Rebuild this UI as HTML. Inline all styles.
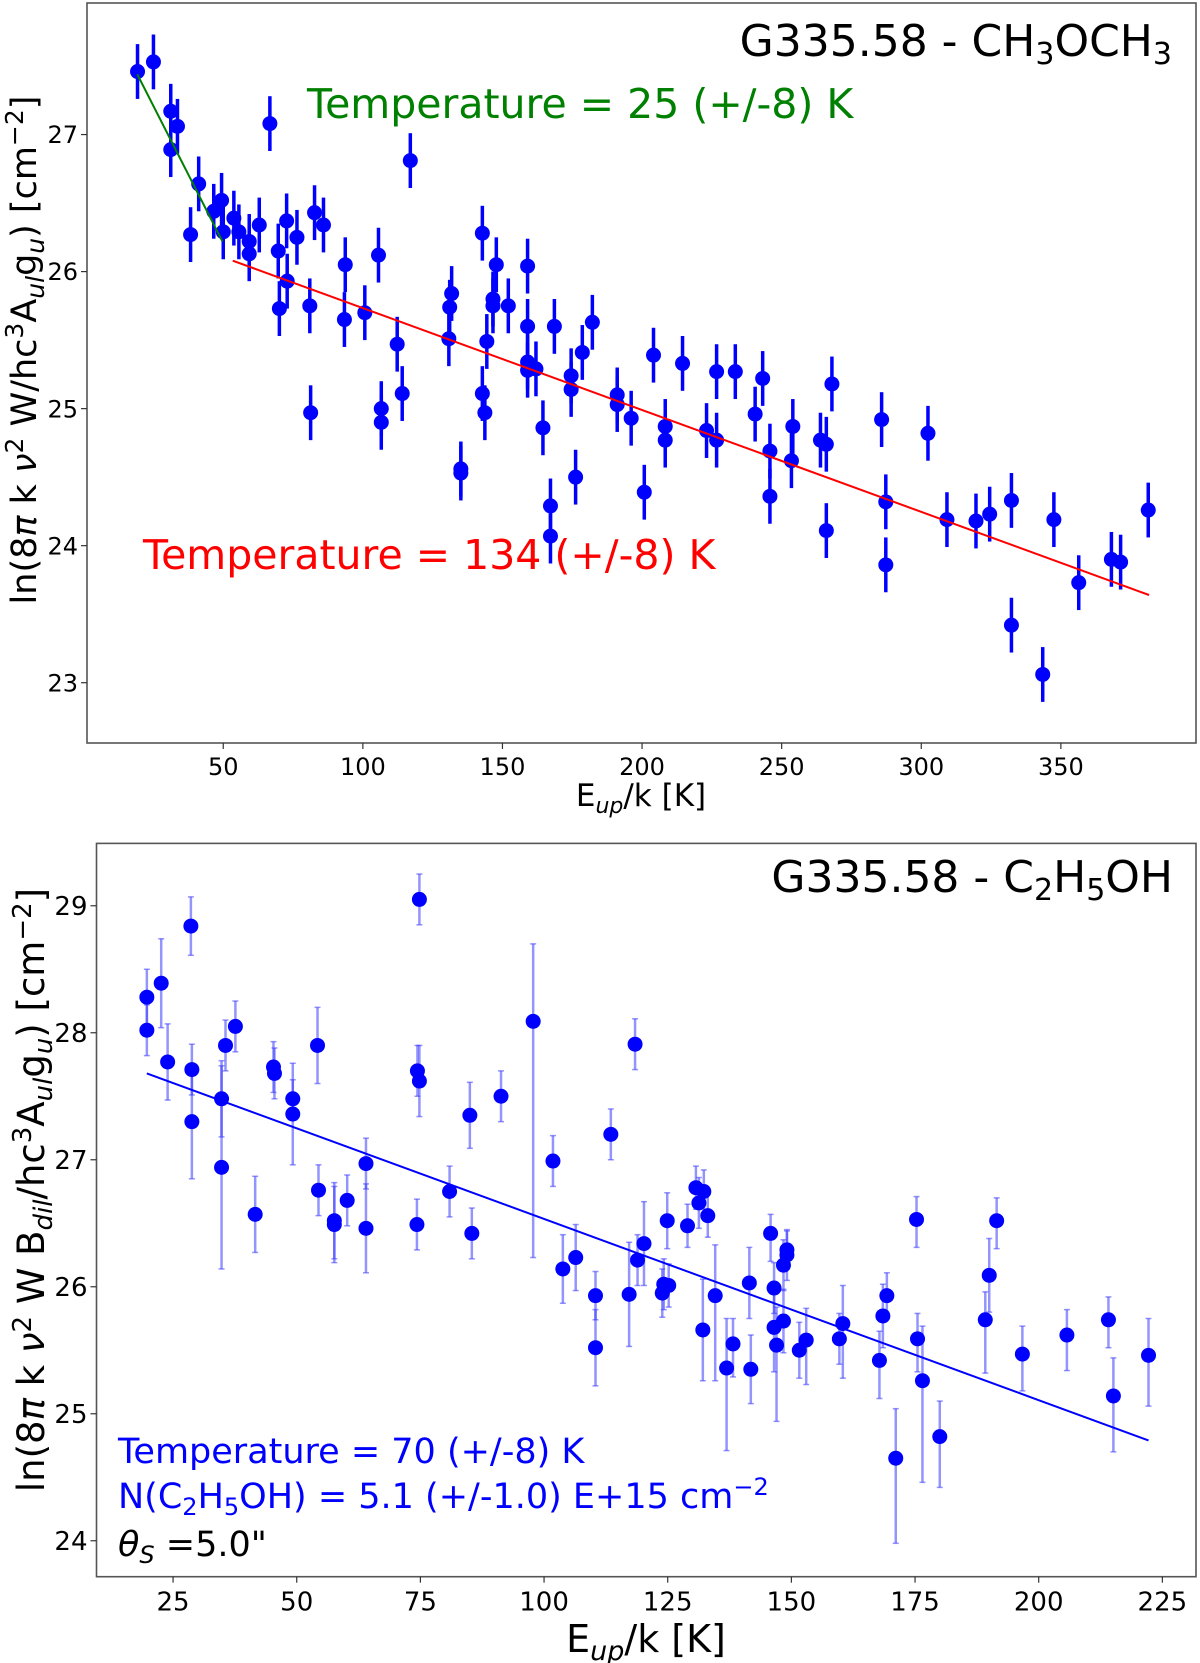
<!DOCTYPE html>
<html><head><meta charset="utf-8"><style>
html,body{margin:0;padding:0;background:#fff;}
svg{display:block;font-family:"DejaVu Sans","Liberation Sans",sans-serif;}
</style></head><body>
<svg id="fig" width="1200" height="1663" viewBox="0 0 1200 1663" xmlns="http://www.w3.org/2000/svg">
<g id="top"></g>
<g id="bot"></g>
<text x="1172" y="56" text-anchor="end" font-size="44" fill="#000">G335.58 - CH<tspan font-size="30" dy="8">3</tspan><tspan dy="-8">OCH</tspan><tspan font-size="30" dy="8">3</tspan></text>
<text x="307" y="118" font-size="41" fill="#008000">Temperature = 25 (+/-8) K</text>
<text x="143" y="569" font-size="41" fill="#ff0000">Temperature = 134 (+/-8) K</text>
<text x="641" y="806" text-anchor="middle" font-size="31">E<tspan font-size="22" dy="7" font-style="italic">up</tspan><tspan dy="-7">/k [K]</tspan></text>
<text transform="translate(36,350) rotate(-90)" text-anchor="middle" font-size="35">ln(8<tspan font-style="italic">π</tspan> k <tspan font-style="italic">ν</tspan><tspan font-size="25" dy="-13">2</tspan><tspan dy="13"> W/hc</tspan><tspan font-size="25" dy="-13">3</tspan><tspan dy="13">A</tspan><tspan font-size="25" dy="8" font-style="italic">ul</tspan><tspan dy="-8">g</tspan><tspan font-size="25" dy="8" font-style="italic">u</tspan><tspan dy="-8">) [cm</tspan><tspan font-size="25" dy="-13">−2</tspan><tspan dy="13">]</tspan></text>
<text x="1173" y="892" text-anchor="end" font-size="44" fill="#000">G335.58 - C<tspan font-size="30" dy="8">2</tspan><tspan dy="-8">H</tspan><tspan font-size="30" dy="8">5</tspan><tspan dy="-8">OH</tspan></text>
<text x="118" y="1463" font-size="35" fill="#0000ff">Temperature = 70 (+/-8) K</text>
<text x="118" y="1508" font-size="35" fill="#0000ff">N(C<tspan font-size="24" dy="7">2</tspan><tspan dy="-7">H</tspan><tspan font-size="24" dy="7">5</tspan><tspan dy="-7">OH) = 5.1 (+/-1.0) E+15 cm</tspan><tspan font-size="24" dy="-13">−2</tspan></text>
<text x="118" y="1556" font-size="35" fill="#000"><tspan font-style="italic">θ</tspan><tspan font-size="24" dy="7" font-style="italic">S</tspan><tspan dy="-7"> =5.0"</tspan></text>
<text x="646" y="1652" text-anchor="middle" font-size="38">E<tspan font-size="27" dy="8" font-style="italic">up</tspan><tspan dy="-8">/k [K]</tspan></text>
<text transform="translate(44,1190) rotate(-90)" text-anchor="middle" font-size="37">ln(8<tspan font-style="italic">π</tspan> k <tspan font-style="italic">ν</tspan><tspan font-size="26" dy="-13">2</tspan><tspan dy="13"> W B</tspan><tspan font-size="26" dy="8" font-style="italic">dil</tspan><tspan dy="-8">/hc</tspan><tspan font-size="26" dy="-13">3</tspan><tspan dy="13">A</tspan><tspan font-size="26" dy="8" font-style="italic">ul</tspan><tspan dy="-8">g</tspan><tspan font-size="26" dy="8" font-style="italic">u</tspan><tspan dy="-8">) [cm</tspan><tspan font-size="26" dy="-13">−2</tspan><tspan dy="13">]</tspan></text>
</svg>
<script>
// ---- top chart data (CH3OCH3) ----
var chX = [19.3,25.0,31.2,33.6,31.2,41.2,38.3,46.6,49.4,50.0,53.8,55.6,59.3,59.3,62.9,66.7,69.7,70.1,72.7,72.9,76.4,81.0,81.3,82.7,85.9,93.7,93.4,100.7,105.6,106.6,106.6,112.3,114.1,117.0,131.1,131.8,130.8,135.1,135.1,142.8,147.8,146.6,146.6,144.4,142.8,143.7,152.1,159.0,159.0,159.0,159.0,162.0,164.5,167.2,167.2,168.6,174.6,174.6,176.2,178.6,182.2,191.1,191.1,196.1,200.8,204.1,208.3,208.3,214.5,223.1,226.7,226.7,233.4,240.5,243.2,245.8,245.8,254.0,253.5,268.0,263.9,266.0,266.0,285.8,287.3,287.3,302.4,309.2,319.6,324.5,332.3,332.3,343.5,347.5,356.4,368.1,371.4,381.3];
var chY = [27.46,27.53,27.17,27.06,26.89,26.64,26.27,26.44,26.52,26.29,26.39,26.29,26.22,26.13,26.34,27.08,26.15,25.73,26.37,25.93,26.25,25.75,24.97,26.43,26.34,26.05,25.65,25.70,26.12,25.00,24.90,25.47,25.11,26.81,25.74,25.84,25.51,24.56,24.53,26.28,26.05,25.80,25.75,25.49,25.11,24.97,25.75,26.04,25.60,25.34,25.28,25.29,24.86,24.29,24.07,25.60,25.24,25.14,24.50,25.41,25.63,25.10,25.03,24.93,24.39,25.39,24.87,24.77,25.33,24.84,25.27,24.77,25.27,24.96,25.22,24.69,24.36,24.87,24.62,25.18,24.77,24.74,24.11,24.92,24.32,23.86,24.82,24.19,24.18,24.23,24.33,23.42,23.06,24.19,23.73,23.90,23.88,24.26];
var chErr = 0.2;
var chWarmFitX = [53.4, 381.6];
var chWarmFitY = [26.08, 23.64];
var chColdFitX = [19.2, 49.7];
var chColdFitY = [27.44, 26.22];
var chXTicks = [50,100,150,200,250,300,350];
var chYTicks = [23,24,25,26,27];

// ---- bottom chart data (C2H5OH) ----
var etX = [19.7,19.7,22.6,23.9,28.6,28.8,28.8,34.8,34.8,35.6,37.6,41.6,45.3,45.5,49.2,49.2,54.2,54.4,57.6,57.6,60.2,64.0,64.0,74.8,74.4,74.8,74.3,80.9,85.0,85.4,91.3,97.8,101.8,103.8,106.4,110.4,110.4,113.5,117.2,118.4,118.9,120.2,123.9,124.2,125.2,124.9,129.0,130.7,131.3,132.3,133.1,132.1,134.6,136.9,138.2,141.8,141.5,145.8,146.5,146.5,147.0,148.4,148.4,149.1,149.1,151.6,153.0,159.7,160.4,167.8,168.5,169.3,171.1,175.3,175.5,176.5,180.0,189.2,190.0,191.5,196.7,205.7,214.1,215.1,222.2];
var etY = [28.28,28.02,28.39,27.77,28.84,27.71,27.30,27.48,26.94,27.90,28.05,26.57,27.73,27.68,27.48,27.36,27.90,26.76,26.52,26.49,26.68,26.97,26.46,29.05,27.70,27.62,26.49,26.75,27.35,26.42,27.50,28.09,26.99,26.14,26.23,25.93,25.52,27.20,25.94,27.91,26.21,26.34,25.95,26.02,26.01,26.52,26.48,26.78,26.66,26.75,26.56,25.66,25.93,25.36,25.55,25.35,26.03,26.42,25.99,25.68,25.54,25.73,26.17,26.29,26.25,25.50,25.58,25.59,25.71,25.42,25.77,25.93,24.65,26.53,25.59,25.26,24.82,25.74,26.09,26.52,25.47,25.62,25.74,25.14,25.46];
var etErrUp = [0.22,0.2,0.35,0.3,0.23,0.2,0.45,0.3,0.8,0.2,0.2,0.3,0.2,0.2,0.15,0.4,0.3,0.2,0.3,0.3,0.2,0.2,0.35,0.2,0.2,0.28,0.2,0.2,0.26,0.2,0.2,0.61,0.2,0.27,0.26,0.19,0.3,0.2,0.41,0.2,0.2,0.33,0.19,0.2,0.17,0.22,0.17,0.17,0.2,0.17,0.17,0.4,0.4,0.39,0.2,0.27,0.28,0.15,0.2,0.35,0.3,0.25,0.2,0.15,0.2,0.22,0.25,0.2,0.3,0.23,0.25,0.18,0.39,0.18,0.2,0.43,0.28,0.22,0.29,0.18,0.22,0.2,0.18,0.3,0.29];
var etErrDn = [0.22,0.2,0.35,0.3,0.23,0.2,0.45,0.3,0.8,0.2,0.2,0.3,0.2,0.2,0.15,0.4,0.3,0.2,0.3,0.3,0.2,0.2,0.35,0.2,0.2,0.28,0.2,0.2,0.26,0.2,0.2,1.86,0.2,0.27,0.26,0.19,0.3,0.2,0.41,0.2,0.2,0.33,0.19,0.2,0.17,0.22,0.17,0.17,0.2,0.17,0.17,0.4,0.67,0.65,0.26,0.27,0.28,0.22,0.2,0.35,0.6,0.25,0.2,0.15,0.2,0.22,0.35,0.2,0.43,0.3,0.25,0.18,0.67,0.22,0.26,0.8,0.4,0.42,0.29,0.22,0.29,0.28,0.22,0.44,0.4];
var etFitX = [19.7, 222.2];
var etFitY = [27.68, 24.79];
var etXTicks = [25,50,75,100,125,150,175,200,225];
var etYTicks = [24,25,26,27,28,29];

var NS = 'http://www.w3.org/2000/svg';
function mk(parent, tag, attrs){
  var e = document.createElementNS(NS, tag);
  for (var k in attrs) e.setAttribute(k, attrs[k]);
  parent.appendChild(e);
  return e;
}
function lin(d0,d1,p0,p1){ return function(v){ return p0 + (v-d0)*(p1-p0)/(d1-d0); }; }

function drawAxes(g, sx, sy, box, xt, yt, fs, prefix){
  var r = mk(g,'rect',{x:box[0],y:box[1],width:box[2]-box[0],height:box[3]-box[1],fill:'none',stroke:'#555',"stroke-width":1.6});
  
  
  xt.forEach(function(t){
    var x = sx(t);
    var l = mk(g,'line',{x1:x,x2:x,y1:box[3],y2:box[3]+6,stroke:'#333',"stroke-width":1.2});
    
    
    var tx = mk(g,'text',{x:x,y:box[3]+8+fs,"text-anchor":'middle',"font-size":fs});
    
    
    tx.textContent = t;
  });
  yt.forEach(function(t){
    var y = sy(t);
    var l = mk(g,'line',{x1:box[0]-6,x2:box[0],y1:y,y2:y,stroke:'#333',"stroke-width":1.2});
    
    
    var tx = mk(g,'text',{x:box[0]-9,y:y+fs*0.36,"text-anchor":'end',"font-size":fs});
    
    
    tx.textContent = t;
  });
}

// top chart
(function(){
  var g = document.getElementById('top');
  var sx = lin(1.2, 398.4, 87, 1196);
  var sy = lin(22.56, 27.96, 743, 3);
  drawAxes(g, sx, sy, [87,3,1196,743], chXTicks, chYTicks, 24, 'top');
  for (var i=0;i<chX.length;i++){
    var x = sx(chX[i]);
    var eb = mk(g,'line',{x1:x,x2:x,y1:sy(chY[i]+chErr),y2:sy(chY[i]-chErr),stroke:'#0000ff',"stroke-width":3.5});
    
    
  }
  for (var j=0;j<chX.length;j++){
    var c = mk(g,'circle',{cx:sx(chX[j]),cy:sy(chY[j]),r:7.5,fill:'#0000ff'});
    
    
  }
  var w = mk(g,'line',{x1:sx(chWarmFitX[0]),y1:sy(chWarmFitY[0]),x2:sx(chWarmFitX[1]),y2:sy(chWarmFitY[1]),stroke:'#ff0000',"stroke-width":2});
  
  
  var c2 = mk(g,'line',{x1:sx(chColdFitX[0]),y1:sy(chColdFitY[0]),x2:sx(chColdFitX[1]),y2:sy(chColdFitY[1]),stroke:'#008000',"stroke-width":2});
  
  
})();

// bottom chart
(function(){
  var g = document.getElementById('bot');
  var sx = lin(9.52, 231.8, 96.5, 1196);
  var sy = lin(23.717, 29.491, 1576.7, 843.4);
  drawAxes(g, sx, sy, [96.5,843.4,1196,1576.7], etXTicks, etYTicks, 26, 'bottom');
  for (var i=0;i<etX.length;i++){
    var x = sx(etX[i]);
    var y1 = sy(etY[i]+etErrUp[i]), y2 = sy(etY[i]-etErrDn[i]);
    var eb = mk(g,'line',{x1:x,x2:x,y1:y1,y2:y2,stroke:'rgba(60,60,255,0.55)',"stroke-width":2.5});
    
    
    var ca = mk(g,'line',{x1:x-3,x2:x+3,y1:y1,y2:y1,stroke:'rgba(60,60,255,0.55)',"stroke-width":1.5});
    
    
    var cb = mk(g,'line',{x1:x-3,x2:x+3,y1:y2,y2:y2,stroke:'rgba(60,60,255,0.55)',"stroke-width":1.5});
    
    
  }
  for (var j=0;j<etX.length;j++){
    var c = mk(g,'circle',{cx:sx(etX[j]),cy:sy(etY[j]),r:7.5,fill:'#0000ff'});
    
    
  }
  var f = mk(g,'line',{x1:sx(etFitX[0]),y1:sy(etFitY[0]),x2:sx(etFitX[1]),y2:sy(etFitY[1]),stroke:'#0000ff',"stroke-width":2});
  
  
})();
</script>
</body></html>
